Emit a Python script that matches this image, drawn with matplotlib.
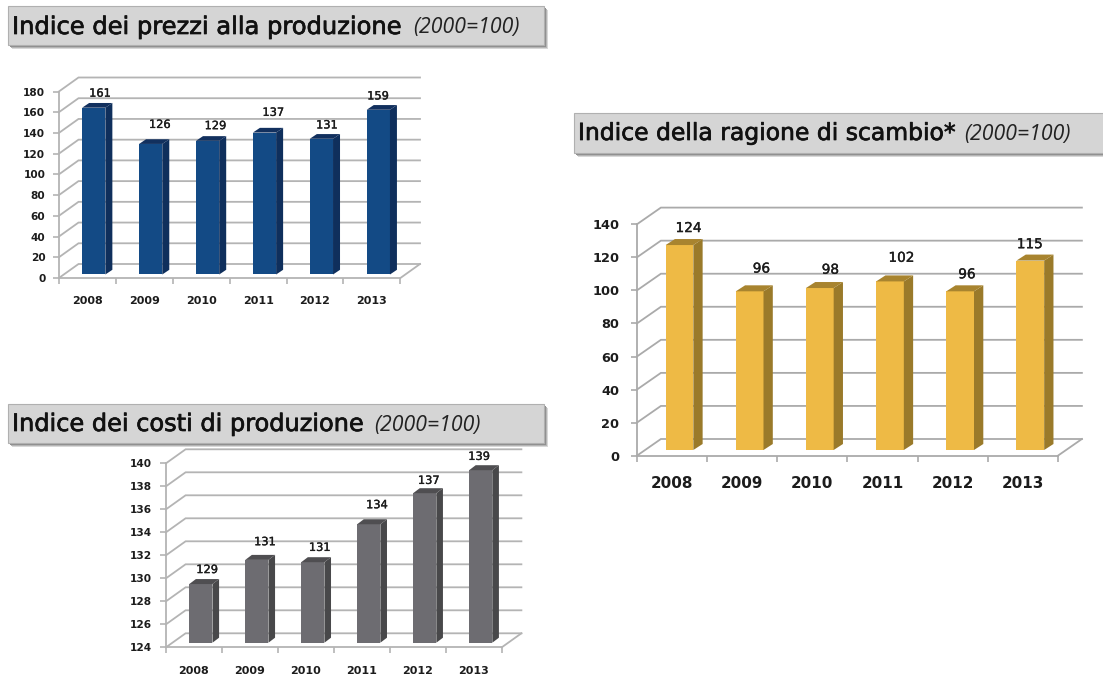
import matplotlib
matplotlib.use("Agg")
import matplotlib.pyplot as plt
import matplotlib.patheffects as pe
from matplotlib.patches import Rectangle

W, H = 1103, 674
YEARS = ["2008", "2009", "2010", "2011", "2012", "2013"]

PRICES = [161, 126, 129, 137, 131, 159]
TERMS = [124, 96, 98, 102, 96, 114.6]
COSTS = [129.1, 131.2, 131, 134.3, 137, 139]

PRICE_TICKS = list(range(0, 181, 20))
TERM_TICKS = list(range(0, 141, 20))
COST_TICKS = list(range(124, 141, 2))

FONT = "DejaVu Sans"
INK = "#1c1c1c"
fig = plt.figure(figsize=(W / 100, H / 100), dpi=100, facecolor="white")


def chart(vals, ticks, rect, depth, bar, shifts, cols, fs, gridcol, pad):
    x0, x1, y_low, y_high = rect
    ytick_fs, xtick_fs, lab_fs = fs
    ax = fig.add_axes([x0 / W, 1 - y_low / H, (x1 - x0) / W, (y_low - y_high) / H])
    ax.set_facecolor("none")
    ymin, ymax = ticks[0], ticks[-1]
    ax.set_xlim(0, 6)
    ax.set_ylim(ymin, ymax)
    px = 6 / (x1 - x0)
    py = (ymax - ymin) / (y_low - y_high)
    ddx, ddy = depth[0] * px, depth[1] * py
    for t in ticks:
        ax.plot([0, ddx, 6 + ddx], [t, t + ddy, t + ddy], color=gridcol, lw=1.3,
                clip_on=False, zorder=1, solid_joinstyle="miter")
    ax.plot([6, 6 + ddx], [ymin, ymin + ddy], color=gridcol, lw=1.3, clip_on=False, zorder=1)
    for s in ("top", "right"):
        ax.spines[s].set_visible(False)
    for s in ("left", "bottom"):
        ax.spines[s].set_color(gridcol)
        ax.spines[s].set_linewidth(1.3)
    ax.set_yticks(ticks)
    ax.set_yticklabels([str(t) for t in ticks], fontsize=ytick_fs, fontweight="bold",
                       family=FONT, color=INK)
    ax.set_xticks(range(7))
    ax.set_xticklabels([])
    ax.set_xticks([i + 0.5 for i in range(6)], minor=True)
    ax.set_xticklabels(YEARS, minor=True, fontsize=xtick_fs, fontweight="bold",
                       family=FONT, color=INK)
    ax.tick_params(axis="both", which="major", length=4, width=1.2, color=gridcol)
    ax.tick_params(axis="y", pad=pad[0])
    ax.tick_params(axis="x", which="minor", length=0, pad=pad[1])

    off_x, off_y, bw, sx, sy = bar
    w = bw * px
    dx, dy = sx * px, sy * py
    base = ymin + off_y * py
    for i, v in enumerate(vals):
        left = i + 0.5 + off_x * px - w / 2
        top = v + off_y * py
        ax.bar(left + w / 2, v - ymin, w, bottom=base, color=cols[0], clip_on=False, zorder=3)
        ax.fill([left + w, left + w + dx, left + w + dx, left + w],
                [base, base + dy, top + dy, top], color=cols[1], lw=0, clip_on=False, zorder=3)
        ax.fill([left, left + dx, left + w + dx, left + w],
                [top, top + dy, top + dy, top], color=cols[2], lw=0, clip_on=False, zorder=3)
        ax.text(left + w / 2 + shifts[i][0] * px, top + shifts[i][1] * py, f"{round(v)}",
                ha="center", va="center", fontsize=lab_fs, family=FONT, color=INK, zorder=4,
                clip_on=False, path_effects=[pe.withStroke(linewidth=0.25, foreground=INK)])
    return ax


chart(PRICES, PRICE_TICKS, (58.9, 400.4, 278, 91.5), (19.6, 14), (6.4, 3.5, 23.2, 7, 4.7),
      [(6.2, 14), (9, 19), (7.8, 14.7), (8.8, 19.7), (5.5, 13.3), (-0.3, 13.3)],
      ("#134a85", "#0f2f5c", "#12305e"), (7.6, 8, 8.2), "#b4b4b4", (5.8, 13.3))
chart(TERMS, TERM_TICKS, (636.9, 1057.9, 455.7, 224.3), (24, 16.7), (7.5, 5.7, 27.7, 9.3, 6),
      [(9, 17), (11.8, 22.7), (10.6, 18.3), (11.4, 23.6), (6.8, 17), (-0.5, 16.4)],
      ("#eeba45", "#9a7a2a", "#a8842f"), (9.3, 10.9, 9.8), "#aaaaaa", (8.6, 14.6))
chart(COSTS, COST_TICKS, (166, 501.8, 647.3, 463.3), (19.6, 14), (6.9, 4.6, 23.2, 6.6, 5),
      [(6.2, 14), (8.1, 17.7), (6.9, 14.3), (8.1, 19), (4, 12.3), (-1.6, 13.3)],
      ("#6d6c71", "#48484a", "#4f4e51"), (7.6, 8, 8.2), "#b4b4b4", (6.4, 13.3))

# Title banners drawn over the charts in a pixel-scaled overlay
ov = fig.add_axes([0, 0, 1, 1], zorder=10)
ov.set_xlim(0, W)
ov.set_ylim(H, 0)
ov.axis("off")
ov.patch.set_alpha(0)


def banner(x0, y0, x1, y1, main, mx, my, mfs, sub, sx, sfs):
    for o, col in ((4, "#d8d8d8"), (3, "#b5b5b5"), (2, "#8f8f8f")):
        ov.add_patch(Rectangle((x0 + o, y0 + o), x1 - x0, y1 - y0, fc=col, ec="none"))
    ov.add_patch(Rectangle((x0, y0), x1 - x0, y1 - y0, fc="#d5d5d5", ec="#b0b0b0", lw=0.8))
    ov.text(mx, my, main, fontsize=mfs, family="DejaVu Sans", color="#111111", va="center",
            ha="left", path_effects=[pe.withStroke(linewidth=0.5, foreground="#111111")])
    ov.text(sx, my + 1, sub, fontsize=sfs, family="Open Sans", style="italic", color="#222222",
            va="center", ha="left")


banner(8.2, 6, 543.6, 45, "Indice dei prezzi alla produzione", 12, 27, 17.4,
       "(2000=100)", 413, 15.3)
banner(573.9, 113, 1110, 152.7, "Indice della ragione di scambio*", 578, 133.5, 16.9,
       "(2000=100)", 964, 15.3)
banner(8.2, 403.5, 543.6, 443.3, "Indice dei costi di produzione", 12, 424, 17.3,
       "(2000=100)", 374, 15.3)

fig.savefig("out.png", dpi=100, facecolor="white")
